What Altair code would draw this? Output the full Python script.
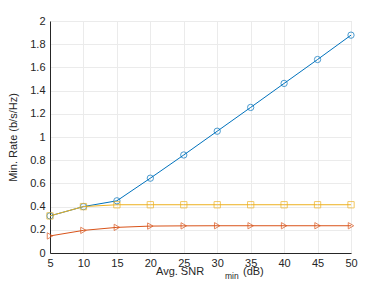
import altair as alt
import pandas as pd

snr = [5, 10, 15, 20, 25, 30, 35, 40, 45, 50]
blue = [0.32, 0.40, 0.45, 0.645, 0.845, 1.05, 1.255, 1.462, 1.668, 1.878]
orange = [0.147, 0.195, 0.221, 0.232, 0.234, 0.235, 0.235, 0.235, 0.235, 0.235]
yellow = [0.32, 0.40, 0.416, 0.416, 0.416, 0.416, 0.416, 0.416, 0.416, 0.416]

series = ["A", "B", "C"]
colors = ["#0072BD", "#D95319", "#EDB120"]
shapes = ["circle", "triangle-right", "square"]

rows = []
for name, vals in zip(series, [blue, orange, yellow]):
    for x, v in zip(snr, vals):
        rows.append({"snr": x, "rate": v, "s": name})
df = pd.DataFrame(rows)

W, H = 301, 232
font = "Liberation Sans"
dark = "#262626"

xs = alt.X("snr:Q", scale=alt.Scale(domain=[5, 50], nice=False),
           axis=alt.Axis(values=list(range(5, 55, 5)), title=None, grid=True, format="~g",
                         gridColor="#ebebeb", domainColor=dark, tickSize=0,
                         labelColor=dark, labelFont=font, labelFontSize=11,
                         labelPadding=4, labelFlush=False))
ys = alt.Y("rate:Q", scale=alt.Scale(domain=[0, 2], nice=False),
           axis=alt.Axis(values=[0, 0.2, 0.4, 0.6, 0.8, 1, 1.2, 1.4, 1.6, 1.8, 2], format="~g",
                         title="Min. Rate (b/s/Hz)", titleFont=font, titleFontSize=11,
                         titleFontWeight="normal", titleColor=dark, titlePadding=11,
                         grid=True, gridColor="#ebebeb", domainColor=dark, tickSize=0,
                         labelColor=dark, labelFont=font, labelFontSize=11,
                         labelPadding=5, labelFlush=False))
col = alt.Color("s:N", scale=alt.Scale(domain=series, range=colors), legend=None)
shp = alt.Shape("s:N", scale=alt.Scale(domain=series, range=shapes), legend=None)

lines = alt.Chart(df).mark_line(strokeWidth=1).encode(x=xs, y=ys, color=col, detail="s:N")
pts = alt.Chart(df).mark_point(size=40, filled=False, strokeWidth=1).encode(
    x=xs, y=ys, color=col, shape=shp)

t1 = alt.Chart(pd.DataFrame({"t": ["Avg. SNR"]})).mark_text(
    align="left", baseline="alphabetic", font=font, fontSize=11, color=dark).encode(
    text="t:N", x=alt.value(106), y=alt.value(254))
t2 = alt.Chart(pd.DataFrame({"t": ["min"]})).mark_text(
    align="left", baseline="alphabetic", font=font, fontSize=8.5, color=dark).encode(
    text="t:N", x=alt.value(175), y=alt.value(258))
t3 = alt.Chart(pd.DataFrame({"t": ["(dB)"]})).mark_text(
    align="left", baseline="alphabetic", font=font, fontSize=11, color=dark).encode(
    text="t:N", x=alt.value(193), y=alt.value(254))

chart = alt.layer(lines, pts, t1, t2, t3).properties(
    width=W, height=H,
    autosize=alt.AutoSizeParams(type="none"),
    padding={"left": 42, "top": 13, "right": 29, "bottom": 27},
).configure_view(stroke="#ebebeb").configure(background="white")

chart.save("out.html", embed_options={"renderer": "svg", "actions": False})
